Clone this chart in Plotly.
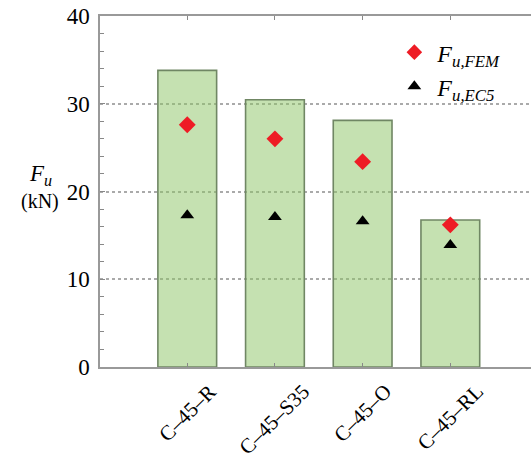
import plotly.graph_objects as go

categories = ["C\u201345\u2013R", "C\u201345\u2013S35", "C\u201345\u2013O", "C\u201345\u2013RL"]
bar_values = [33.8, 30.45, 28.1, 16.75]
fem_values = [27.6, 26.0, 23.4, 16.2]
ec5_values = [17.3, 17.1, 16.6, 13.9]

x = list(range(len(categories)))
font_family = "Liberation Serif, Times New Roman, serif"

fig = go.Figure()
fig.add_trace(go.Bar(
    x=x, y=bar_values, width=0.67,
    marker=dict(color="rgba(140,196,100,0.5)",
                line=dict(color="rgb(112,135,100)", width=1.6)),
    showlegend=False, hoverinfo="skip"))
fig.add_trace(go.Scatter(
    x=x, y=fem_values, mode="markers", name="<i>F</i><sub><i>u,FEM</i></sub>",
    marker=dict(symbol="diamond", color="#ee1c25", size=13)))
fig.add_trace(go.Scatter(
    x=x, y=ec5_values, mode="markers", name="<i>F</i><sub><i>u,EC5</i></sub>",
    marker=dict(symbol="triangle-up", color="black", size=12)))

pw, ph = 531 - 100 - 0, 460 - 16 - 93

def px2paper(px, py):
    return (px - 100) / pw, 1 - (py - 16) / ph

ax1, ay1 = px2paper(40, 175)
ax2, ay2 = px2paper(40, 201)
_, label_top = px2paper(0, 378)

annotations = [
    dict(text="<i>F<sub>u</sub></i>", x=ax1, y=ay1, xref="paper", yref="paper",
         xanchor="center", yanchor="middle", showarrow=False,
         font=dict(size=23, family=font_family)),
    dict(text="(kN)", x=ax2, y=ay2, xref="paper", yref="paper",
         xanchor="center", yanchor="middle", showarrow=False,
         font=dict(size=20, family=font_family)),
]
for xi, cat in zip(x, categories):
    annotations.append(dict(
        text=cat, x=xi, y=label_top, xref="x", yref="paper",
        xanchor="center", yanchor="top", textangle=-45, showarrow=False,
        borderpad=0, font=dict(size=21, family=font_family)))

fig.update_layout(
    width=531, height=460,
    margin=dict(l=100, r=0, t=16, b=93, autoexpand=False),
    plot_bgcolor="white", paper_bgcolor="white",
    font=dict(family=font_family, size=20, color="black"),
    showlegend=True,
    legend=dict(x=0.676, y=0.96, xanchor="left", yanchor="top",
                bgcolor="rgba(0,0,0,0)", font=dict(size=24, family=font_family),
                itemsizing="constant", tracegroupgap=0, itemwidth=36),
    xaxis=dict(
        range=[-0.995, 3.92], tickmode="array", tickvals=x, showticklabels=False,
        ticks="inside", ticklen=4, tickcolor="#888",
        showline=True, linecolor="#999", linewidth=1.5, mirror="ticks",
        showgrid=False, zeroline=False, automargin=False),
    yaxis=dict(
        range=[0, 40], tickvals=[0, 10, 20, 30, 40], ticks="inside", ticklen=5,
        tickcolor="#888", showline=True, linecolor="#999", linewidth=1.5,
        showgrid=True, gridcolor="#aaaaaa", griddash="dot", gridwidth=1.5,
        zeroline=False, tickfont=dict(size=23, family=font_family), ticklabelstandoff=4,
        automargin=False,
        minor=dict(dtick=2, ticks="inside", ticklen=4, tickcolor="#888", showgrid=False)),
    annotations=annotations,
)

fig.write_html("out.html")
